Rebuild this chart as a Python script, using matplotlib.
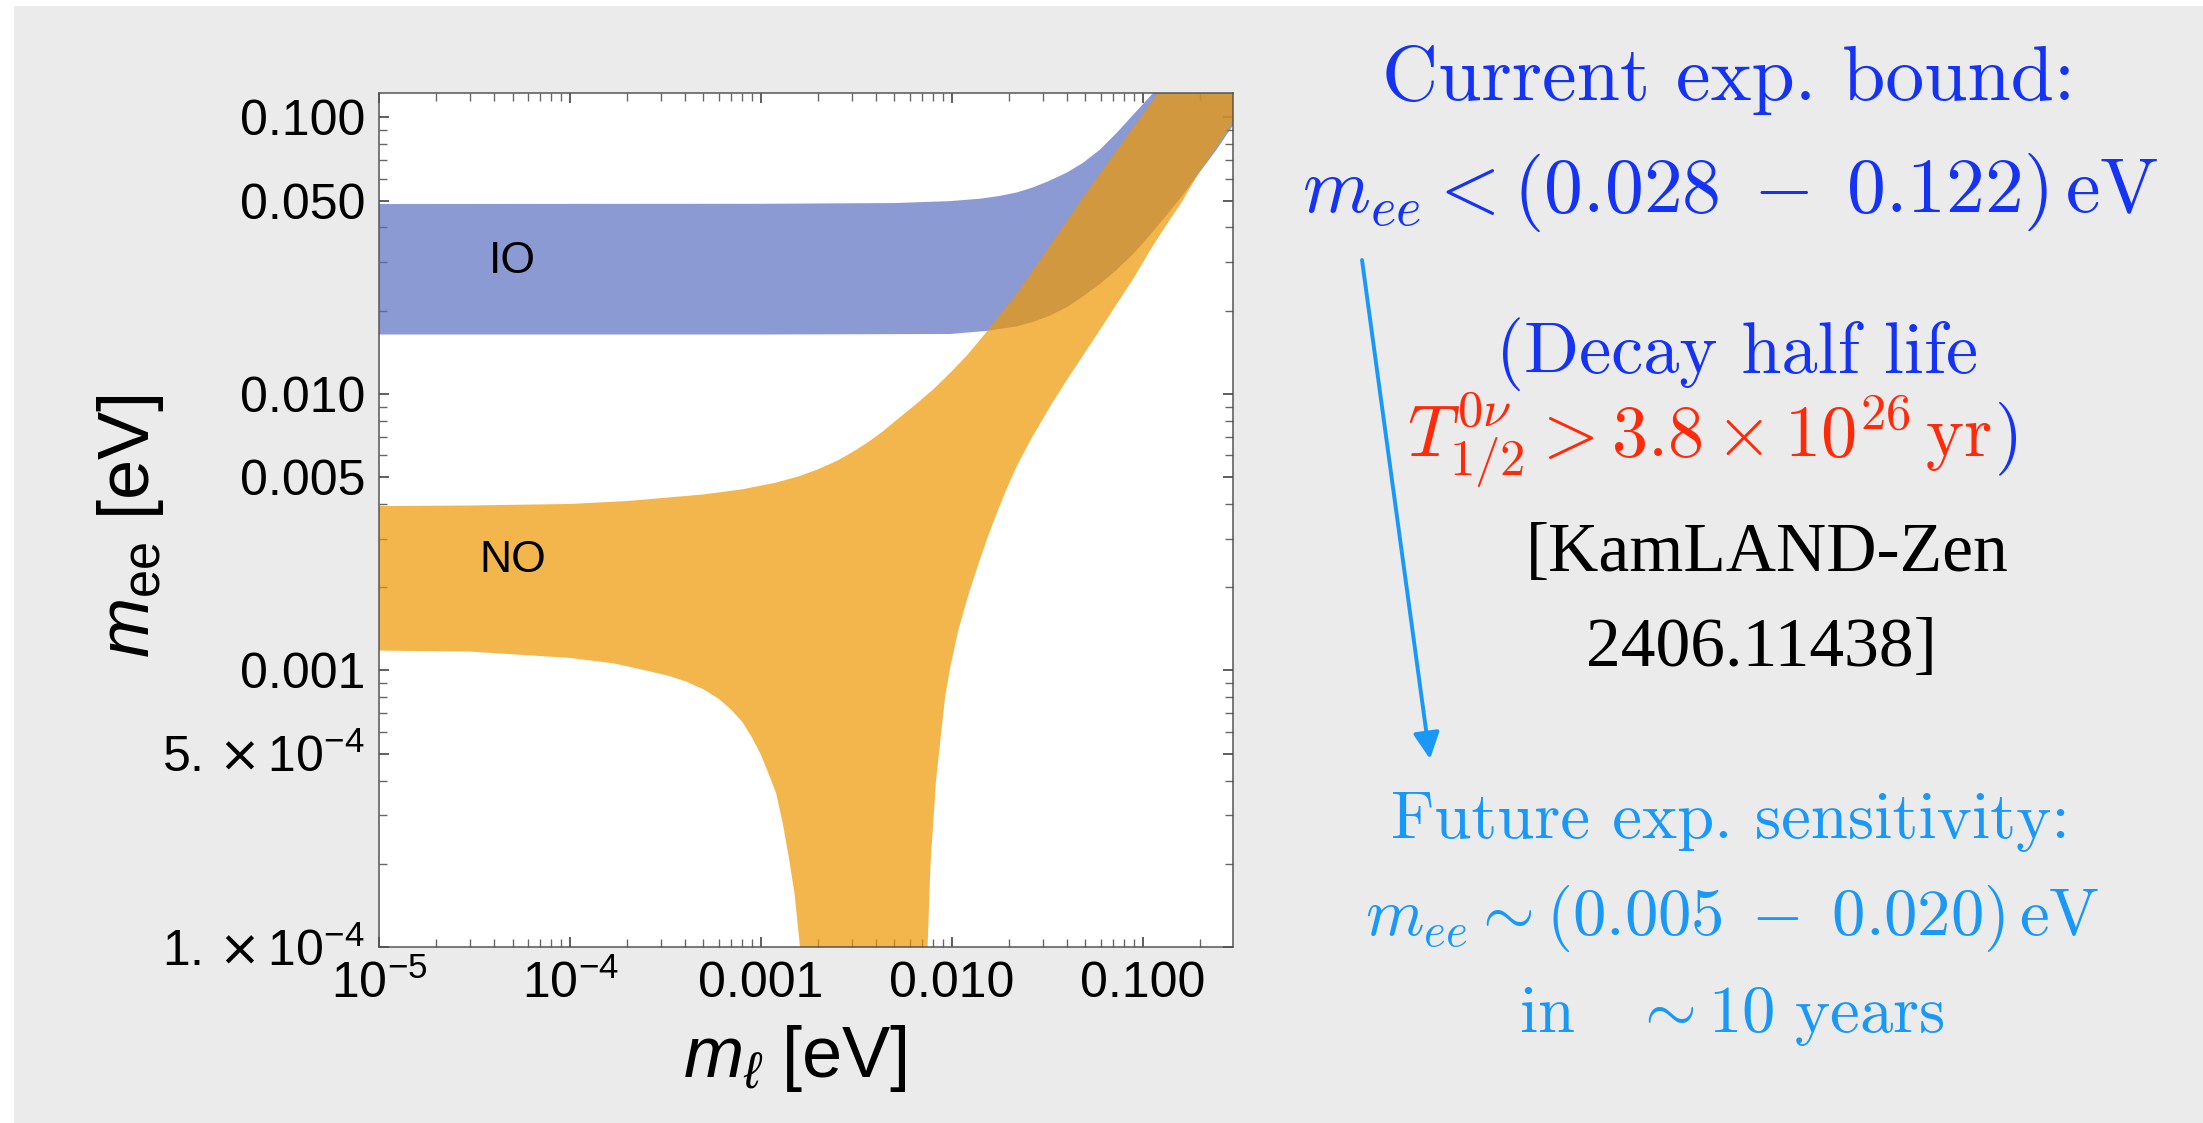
import matplotlib
matplotlib.use("Agg")
import matplotlib.pyplot as plt
from matplotlib.patches import Rectangle, FancyArrowPatch
from matplotlib.ticker import FixedLocator, FixedFormatter, LogLocator, NullFormatter

plt.rcParams["font.family"] = ["Liberation Sans", "DejaVu Sans"]
plt.rcParams["mathtext.fontset"] = "custom"
plt.rcParams["mathtext.rm"] = "Liberation Sans"
plt.rcParams["mathtext.it"] = "Liberation Sans:italic"
plt.rcParams["mathtext.bf"] = "Liberation Sans:bold"
plt.rcParams["mathtext.sf"] = "DejaVu Sans"

W, H = 2203, 1123
PANEL = "#ebebeb"
IO_COL = "#5b70c2"
NO_COL = "#ef9801"
BLUE = "#1433f5"
LBLUE = "#1a98f8"
RED = "#ff2a0a"

# ── band edges (lightest mass [eV], m_ee [eV]) ──
io_up_x = [1e-5, 1e-3, 5e-3, 0.0098, 0.014, 0.0178, 0.022, 0.0265, 0.032, 0.040, 0.0485, 0.0596,
           0.0728, 0.0927, 0.113, 0.3]
io_up_y = [0.0486, 0.0487, 0.0490, 0.0498, 0.0508, 0.0520, 0.0536, 0.0558, 0.0588, 0.0632, 0.0685, 0.0765,
           0.0879, 0.1055, 0.1225, 0.31]
io_lo_x = [1e-5, 1e-3, 0.0098, 0.0152, 0.0219, 0.0265, 0.0326, 0.040, 0.0485, 0.0596, 0.0728, 0.0887,
           0.1063, 0.1337, 0.162, 0.1987, 0.243, 0.296, 0.32]
io_lo_y = [0.0164, 0.0164, 0.01647, 0.0169, 0.01755, 0.0182, 0.0192, 0.0206, 0.0225, 0.0250, 0.0281, 0.0320,
           0.0368, 0.0445, 0.0525, 0.0635, 0.0765, 0.0935, 0.101]

no_up_x = [1e-5, 3e-5, 1e-4, 2e-4, 3e-4, 5e-4, 8e-4, 1.2e-3, 1.6e-3, 2.0e-3, 2.5e-3, 3.0e-3, 3.6e-3,
           4.3e-3, 5.3e-3, 6.5e-3, 8.0e-3, 0.010, 0.012, 0.015, 0.018, 0.022, 0.027, 0.033, 0.040, 0.0485,
           0.060, 0.0728, 0.090, 0.110, 0.120, 0.3]
no_up_y = [0.00393, 0.00395, 0.00400, 0.00410, 0.00420, 0.00433, 0.00452, 0.00478, 0.00505, 0.00535,
           0.00573, 0.00615, 0.00666, 0.00728, 0.0082, 0.0092, 0.0104, 0.0121, 0.0138, 0.0166, 0.0195,
           0.0232, 0.0284, 0.0348, 0.0422, 0.0513, 0.0630, 0.0759, 0.0930, 0.1125, 0.1225, 0.305]
# lower edge: left arm of the dip, then right arm (points below 1e-4 sit under the frame)
no_lo_x = [1e-5, 3e-5, 1e-4, 1.7e-4, 2.5e-4, 3.3e-4, 4.0e-4, 5.0e-4, 6.0e-4, 7.0e-4, 8.0e-4, 9.0e-4,
           1.0e-3, 1.1e-3, 1.2e-3, 1.3e-3, 1.4e-3, 1.5e-3, 1.6e-3, 1.68e-3,
           0.0073, 0.00745, 0.00772, 0.00825, 0.0092, 0.0098, 0.0108, 0.0122, 0.01385, 0.0155, 0.01721,
           0.0195, 0.02189, 0.026, 0.0326, 0.040, 0.050, 0.0596, 0.0728, 0.090, 0.1088, 0.13, 0.16,
           0.1987, 0.24, 0.2854, 0.32]
no_lo_y = [0.00118, 0.00117, 0.00111, 0.00106, 0.00100, 0.000955, 0.000915, 0.000855, 0.00079, 0.00072,
           0.00065, 0.00057, 0.000495, 0.00042, 0.00036, 0.00028, 0.00021, 0.000155, 1.0e-4, 5e-5,
           5e-5, 1.0e-4, 2.0e-4, 4.0e-4, 8.0e-4, 0.00103, 0.0014, 0.00188, 0.00246, 0.00308, 0.00372,
           0.0046, 0.0055, 0.00688, 0.00899, 0.01125, 0.0142, 0.01707, 0.0211, 0.0264, 0.0330, 0.0400,
           0.0495, 0.0640, 0.0770, 0.0926, 0.104]

xticks = [1e-5, 1e-4, 1e-3, 1e-2, 1e-1]
xticklabels = [r"$10^{-5}$", r"$10^{-4}$", "0.001", "0.010", "0.100"]
yticks = [1e-4, 5e-4, 1e-3, 5e-3, 1e-2, 5e-2, 1e-1]
yticklabels = [r"$1.\,\mathsf{×}\,10^{-4}$", r"$5.\,\mathsf{×}\,10^{-4}$", "0.001", "0.005", "0.010",
               "0.050", "0.100"]

fig = plt.figure(figsize=(W / 100, H / 100), dpi=100, facecolor="white")
fig.patches.append(Rectangle((14 / W, 0), 1 - 14 / W, 1 - 6 / H, transform=fig.transFigure,
                             facecolor=PANEL, edgecolor="none", zorder=-10))

ax = fig.add_axes([379 / W, 1 - 947 / H, 854 / W, 854 / H])
ax.set_facecolor("white")
ax.set_xscale("log")
ax.set_yscale("log")

ax.fill(io_up_x + io_lo_x[::-1], io_up_y + io_lo_y[::-1], color=IO_COL, alpha=0.7, lw=0, zorder=2)
ax.fill(no_up_x + no_lo_x[::-1], no_up_y + no_lo_y[::-1], color=NO_COL, alpha=0.7, lw=0, zorder=3)

ax.set_xlim(1e-5, 0.296)
ax.set_ylim(1e-4, 0.1225)

ax.text(5e-5, 0.030, "IO", ha="center", va="center", fontsize=32, zorder=5)
ax.text(5e-5, 0.0025, "NO", ha="center", va="center", fontsize=32, zorder=5)

ax.xaxis.set_major_locator(FixedLocator(xticks))
ax.xaxis.set_major_formatter(FixedFormatter(xticklabels))
ax.yaxis.set_major_locator(FixedLocator(yticks))
ax.yaxis.set_major_formatter(FixedFormatter(yticklabels))
ax.xaxis.set_minor_locator(LogLocator(base=10, subs=range(2, 10), numticks=20))
ax.yaxis.set_minor_locator(LogLocator(base=10, subs=range(2, 10), numticks=20))
ax.xaxis.set_minor_formatter(NullFormatter())
ax.yaxis.set_minor_formatter(NullFormatter())
ax.tick_params(which="both", direction="in", top=True, right=True, labelsize=36, pad=10)
ax.tick_params(which="major", length=7, width=1.1, color="#333333")
ax.tick_params(which="minor", length=5.5, width=1.0, color="#666666")
for sp in ax.spines.values():
    sp.set_color("#555555")
    sp.set_linewidth(1.1)
    sp.set_zorder(6)

ax.set_xlabel(r"$m_\ell$ [eV]", fontsize=52)
ax.set_ylabel(r"$m_{\mathrm{ee}}$ [eV]", fontsize=52)
ax.xaxis.set_label_coords(0.487, -0.089)
ax.yaxis.set_label_coords(-0.25, 0.493)


def put(x, y, s, **kw):
    fig.text(x / W, 1 - y / H, s, ha=kw.pop("ha", "center"), va="baseline", **kw)


CM = dict(math_fontfamily="cm")
put(1729, 100, "Current exp. bound:", fontsize=56, color=BLUE, family="cmr10")
put(1730, 212, r"$m_{ee} < (0.028\;-\;0.122)\,\mathrm{eV}$", fontsize=56, color=BLUE, **CM)
put(1737, 373, "(Decay half life", fontsize=52, color=BLUE, family="cmr10")
put(1992, 457, r"$T^{0\nu}_{1/2} > 3.8\times10^{26}\,\mathrm{yr}$", fontsize=52, color=RED,
    ha="right", **CM)
put(1994, 457, r"$\mathrm{)}$", fontsize=52, color=BLUE, ha="left", **CM)
put(1767, 571, "[KamLAND-Zen", fontsize=50, color="black", family="Liberation Serif")
put(1761, 666, "2406.11438]", fontsize=50, color="black", family="Liberation Serif")
put(1730, 838, "Future exp. sensitivity:", fontsize=48, color=LBLUE, family="cmr10")
put(1732, 935, r"$m_{ee} \sim (0.005\;-\;0.020)\,\mathrm{eV}$", fontsize=48, color=LBLUE, **CM)
put(1732, 1032, r"$\mathrm{in}\ \ \ \sim 10\ \mathrm{years}$", fontsize=48, color=LBLUE, **CM)

fig.patches.append(FancyArrowPatch(
    (1362 / W, 1 - 260 / H), (1430 / W, 1 - 759 / H), transform=fig.transFigure,
    arrowstyle="-|>", mutation_scale=40, color=LBLUE, lw=2.8, shrinkA=0, shrinkB=0))

fig.savefig("out.png", dpi=100, facecolor=fig.get_facecolor())
